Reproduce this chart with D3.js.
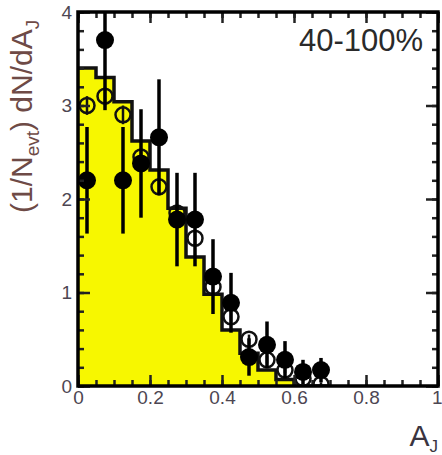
<!DOCTYPE html>
<html>
<head>
<meta charset="utf-8">
<script src="https://cdn.jsdelivr.net/npm/d3@7"></script>
<style>
  body { margin: 0; background: #fff; }
  svg { display: block; font-family: "Liberation Sans", Arial, sans-serif; }
</style>
</head>
<body>
<div id="chart"></div>
<script>
// define variables
const width = 442;
const height = 455;

///
/// DATA
///

// HIJING+PYTHIA histogram, bin edges and contents
const binEdges = [0, 0.05, 0.1, 0.15, 0.2, 0.25, 0.3, 0.35, 0.4, 0.45, 0.5, 0.55, 0.6, 0.65, 0.7];
const mcValues = [3.40, 3.30, 3.04, 2.62, 2.31, 1.90, 1.38, 0.98, 0.60, 0.35, 0.17, 0.07, 0, 0];

// bin centres for the data points
const ajCenters = [0.025, 0.075, 0.125, 0.175, 0.225, 0.275, 0.325, 0.375, 0.425, 0.475, 0.525, 0.575, 0.625, 0.675];

// Pb+Pb 40-100% (filled circles)
const pbValues = [2.20, 3.70, 2.20, 2.38, 2.66, 1.78, 1.78, 1.17, 0.89, 0.31, 0.44, 0.28, 0.15, 0.17];
const pbErrors = [0.57, 0.75, 0.57, 0.58, 0.62, 0.50, 0.50, 0.40, 0.32, 0.20, 0.25, 0.20, 0.13, 0.13];

// p+p (open circles)
const ppValues = [3.00, 3.10, 2.90, 2.45, 2.13, 1.85, 1.58, 1.06, 0.74, 0.50, 0.28, 0.17, 0.08, 0.02];
const ppErrors = [0.10, 0.10, 0.10, 0.09, 0.09, 0.08, 0.08, 0.07, 0.06, 0.05, 0.04, 0.03, 0.03, 0.02];

// axis ticks
const xMajor = [0, 0.2, 0.4, 0.6, 0.8, 1];
const xLabels = ["0", "0.2", "0.4", "0.6", "0.8", "1"];
const yMajor = [0, 1, 2, 3, 4];
const yLabels = ["0", "1", "2", "3", "4"];

///
/// SCALES
///

const x = d3.scaleLinear().domain([0, 1]).range([78, 438]);
const y = d3.scaleLinear().domain([0, 4]).range([386, 12]);

const svg = d3.select("#chart")
    .append("svg")
    .attr("width", width)
    .attr("height", height);

svg.append("clipPath")
    .attr("id", "plot-clip")
    .append("rect")
    .attr("x", x(0))
    .attr("y", y(4))
    .attr("width", x(1) - x(0))
    .attr("height", y(0) - y(4));

const plot = svg.append("g").attr("clip-path", "url(#plot-clip)");

///
/// HISTOGRAM
///

const histPts = mcValues.map((v, i) => [binEdges[i], v]);
histPts.push([binEdges[binEdges.length - 1], 0]);

const histArea = d3.area()
    .curve(d3.curveStepAfter)
    .x(d => x(d[0]))
    .y0(y(0))
    .y1(d => y(d[1]));

const histLine = d3.line()
    .curve(d3.curveStepAfter)
    .x(d => x(d[0]))
    .y(d => y(d[1]));

plot.append("path")
    .datum(histPts)
    .attr("d", histArea)
    .attr("fill", "#f7f700");

plot.append("path")
    .datum(histPts)
    .attr("d", histLine)
    .attr("fill", "none")
    .attr("stroke", "#111")
    .attr("stroke-width", 3.5);

///
/// AXES (ROOT style, ticks inside, all four sides)
///

function axisG(axis, tx, ty) {
    const g = svg.append("g")
        .attr("transform", `translate(${tx},${ty})`)
        .call(axis);
    g.select(".domain").remove();
    g.selectAll("line").attr("stroke", "#222").attr("stroke-width", 2.5);
    return g;
}

// minor ticks
axisG(d3.axisBottom(x).tickValues(x.ticks(20)).tickSizeInner(-6).tickSizeOuter(0).tickFormat(""), 0, y(0));
axisG(d3.axisTop(x).tickValues(x.ticks(20)).tickSizeInner(-6).tickSizeOuter(0).tickFormat(""), 0, y(4));
axisG(d3.axisLeft(y).tickValues(y.ticks(20)).tickSizeInner(-6).tickSizeOuter(0).tickFormat(""), x(0), 0);
axisG(d3.axisRight(y).tickValues(y.ticks(20)).tickSizeInner(-6).tickSizeOuter(0).tickFormat(""), x(1), 0);

// major ticks + labels
const xAxis = axisG(d3.axisBottom(x).tickValues(xMajor).tickSizeInner(-11).tickSizeOuter(0)
    .tickPadding(5).tickFormat((d, i) => xLabels[i]), 0, y(0));
axisG(d3.axisTop(x).tickValues(xMajor).tickSizeInner(-11).tickSizeOuter(0).tickFormat(""), 0, y(4));
const yAxis = axisG(d3.axisLeft(y).tickValues(yMajor).tickSizeInner(-12).tickSizeOuter(0)
    .tickPadding(6).tickFormat((d, i) => yLabels[i]), x(0), 0);
axisG(d3.axisRight(y).tickValues(yMajor).tickSizeInner(-12).tickSizeOuter(0).tickFormat(""), x(1), 0);

[xAxis, yAxis].forEach(g => g.selectAll("text")
    .attr("font-size", 19)
    .attr("font-family", "Liberation Sans, Arial, sans-serif")
    .attr("fill", "#4d4652"));

// keep the last x label inside the window
xAxis.selectAll("text").filter(d => d === 1).attr("text-anchor", "end").attr("dx", 4);

///
/// DATA POINTS
///

// p+p open circles
plot.append("g")
    .selectAll("line")
    .data(ppValues)
    .join("line")
    .attr("x1", (d, i) => x(ajCenters[i]))
    .attr("x2", (d, i) => x(ajCenters[i]))
    .attr("y1", (d, i) => y(d - ppErrors[i]))
    .attr("y2", (d, i) => y(d + ppErrors[i]))
    .attr("stroke", "#111")
    .attr("stroke-width", 2.5);

plot.append("g")
    .selectAll("circle")
    .data(ppValues)
    .join("circle")
    .attr("cx", (d, i) => x(ajCenters[i]))
    .attr("cy", d => y(d))
    .attr("r", 7.5)
    .attr("fill", "none")
    .attr("stroke", "#111")
    .attr("stroke-width", 2.5);

// Pb+Pb filled circles with error bars
plot.append("g")
    .selectAll("line")
    .data(pbValues)
    .join("line")
    .attr("x1", (d, i) => x(ajCenters[i]))
    .attr("x2", (d, i) => x(ajCenters[i]))
    .attr("y1", (d, i) => y(d - pbErrors[i]))
    .attr("y2", (d, i) => y(d + pbErrors[i]))
    .attr("stroke", "#000")
    .attr("stroke-width", 3.5);

plot.append("g")
    .selectAll("circle")
    .data(pbValues)
    .join("circle")
    .attr("cx", (d, i) => x(ajCenters[i]))
    .attr("cy", d => y(d))
    .attr("r", 9)
    .attr("fill", "#000");

///
/// FRAME + TEXT
///

svg.append("rect")
    .attr("x", x(0))
    .attr("y", y(4))
    .attr("width", x(1) - x(0))
    .attr("height", y(0) - y(4))
    .attr("fill", "none")
    .attr("stroke", "#000")
    .attr("stroke-width", 3.5);

svg.append("text")
    .attr("x", 423)
    .attr("y", 51)
    .attr("text-anchor", "end")
    .attr("font-size", 31)
    .attr("fill", "#2a2a2a")
    .text("40-100%");

const xTitle = svg.append("text")
    .attr("x", 438)
    .attr("y", 446)
    .attr("text-anchor", "end")
    .attr("font-size", 30)
    .attr("fill", "#3a3440");
xTitle.append("tspan").text("A");
xTitle.append("tspan").attr("font-size", 17).attr("dy", 6).text("J");

const yTitle = svg.append("text")
    .attr("transform", "translate(32,213) rotate(-90)")
    .attr("text-anchor", "start")
    .attr("font-size", 30)
    .attr("fill", "#6e4a46");
yTitle.append("tspan").text("(1/N");
yTitle.append("tspan").attr("font-size", 19).attr("dy", 7).text("evt");
yTitle.append("tspan").attr("dy", -7).text(") dN/dA");
yTitle.append("tspan").attr("font-size", 19).attr("dy", 7).text("J");
</script>
</body>
</html>
